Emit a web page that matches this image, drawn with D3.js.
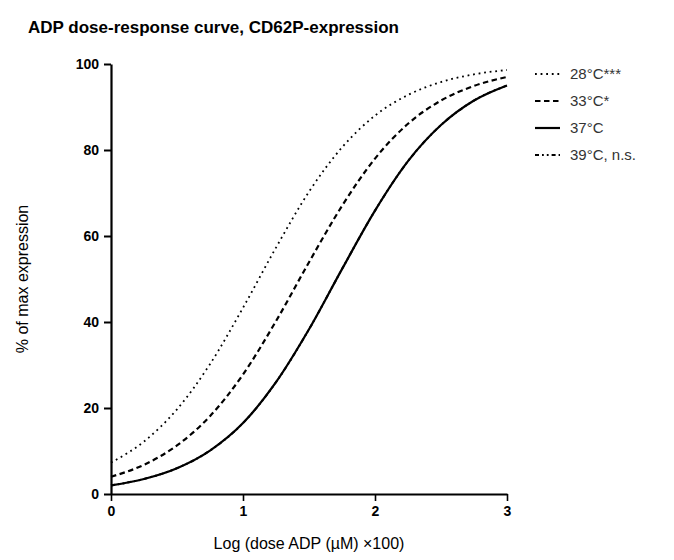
<!DOCTYPE html>
<html>
<head>
<meta charset="utf-8">
<script src="https://cdn.jsdelivr.net/npm/d3@7"></script>
<style>
  body { margin: 0; background: #fff; }
  text { font-family: "Liberation Sans", Arial, sans-serif; }
</style>
</head>
<body>
<div id="plot"></div>
<script>
const logDose = [0, 0.25, 0.5, 0.75, 1, 1.25, 1.5, 1.75, 2, 2.25, 2.5, 2.75, 3];

// % of max expression, per temperature
const t28 = [7.3, 12.2, 19.7, 30.2, 43.3, 57.3, 70.3, 80.6, 88.0, 92.8, 95.8, 97.6, 98.6];
const t33 = [4.0, 6.8, 11.3, 18.1, 27.8, 40.2, 53.9, 67.0, 78.0, 86.1, 91.5, 94.9, 97.0];
const t37 = [2.0, 3.5, 6.0, 10.1, 16.5, 26.0, 38.3, 52.3, 65.9, 77.4, 85.8, 91.5, 95.0];
const t39 = [2.0, 3.5, 6.0, 10.1, 16.5, 26.0, 38.3, 52.3, 65.9, 77.4, 85.8, 91.5, 95.0];

const seriesNames = ['28°C***', '33°C*', '37°C', '39°C, n.s.'];
const xTicks = [0, 1, 2, 3];
const yTicks = [0, 20, 40, 60, 80, 100];

const width = 674;
const height = 560;
const margin = {top: 64, bottom: 66, left: 111, right: 167};

const svg = d3.select('#plot')
    .append('svg')
    .attr('width', width)
    .attr('height', height)
    .attr('viewBox', [0, 0, width, height]);

const x = d3.scaleLinear()
    .domain([0, 3])
    .range([margin.left, width - margin.right]);

const y = d3.scaleLinear()
    .domain([0, 100])
    .range([height - margin.bottom, margin.top]);

const styles = [
    {dash: '1.8,3.8', w: 1.8},
    {dash: '5.5,3.5', w: 2.2},
    {dash: null, w: 2.2},
    {dash: '4,3,1.8,3,1.8,3', w: 2}
];

const series = [t28, t33, t39, t37];
const order = [0, 1, 3, 2];

const line = d3.line()
    .x((d, i) => x(logDose[i]))
    .y(d => y(d))
    .curve(d3.curveMonotoneX);

svg.append('g')
    .selectAll('path')
    .data(series)
    .join('path')
    .attr('fill', 'none')
    .attr('stroke', '#000')
    .attr('stroke-width', (d, i) => styles[order[i]].w)
    .attr('stroke-dasharray', (d, i) => styles[order[i]].dash)
    .attr('d', line);

function xAxis(g) {
    g.attr('transform', `translate(0,${height - margin.bottom})`)
        .call(d3.axisBottom(x).tickValues(xTicks).tickFormat(d3.format('d'))
            .tickSize(7).tickSizeOuter(0).tickPadding(5))
        .call(g => g.select('.domain').attr('stroke-width', 2.2))
        .call(g => g.selectAll('.tick line').attr('stroke-width', 1.6))
        .call(g => g.selectAll('.tick text')
            .attr('font-size', '14px').attr('font-weight', 'bold').attr('fill', '#000'));
}

function yAxis(g) {
    g.attr('transform', `translate(${margin.left},0)`)
        .call(d3.axisLeft(y).tickValues(yTicks).tickSize(7).tickSizeOuter(0).tickPadding(5))
        .call(g => g.select('.domain').attr('stroke-width', 2.2))
        .call(g => g.selectAll('.tick line').attr('stroke-width', 2))
        .call(g => g.selectAll('.tick text')
            .attr('font-size', '14px').attr('font-weight', 'bold').attr('fill', '#000'));
}

svg.append('g').call(yAxis);
svg.append('g').call(xAxis);

svg.append('text')
    .attr('x', 28)
    .attr('y', 33)
    .attr('font-size', '17px')
    .attr('font-weight', 'bold')
    .text('ADP dose-response curve, CD62P-expression');

svg.append('text')
    .attr('transform', `translate(28,${(margin.top + height - margin.bottom) / 2}) rotate(-90)`)
    .attr('text-anchor', 'middle')
    .attr('font-size', '16px')
    .text('% of max expression');

svg.append('text')
    .attr('x', (x(0) + x(3)) / 2)
    .attr('y', 549)
    .attr('text-anchor', 'middle')
    .attr('font-size', '16px')
    .text('Log (dose ADP (µM) ×100)');

// legend
const legend = svg.append('g')
    .selectAll('g')
    .data(seriesNames)
    .join('g')
    .attr('transform', (d, i) => `translate(535,${74 + i * 27})`);

legend.append('line')
    .attr('x1', 0).attr('x2', 25)
    .attr('stroke', '#000')
    .attr('stroke-width', (d, i) => styles[i].w)
    .attr('stroke-dasharray', (d, i) => styles[i].dash);

legend.append('text')
    .attr('x', 35)
    .attr('dy', '0.35em')
    .attr('font-size', '15px')
    .attr('fill', '#333')
    .text(d => d);
</script>
</body>
</html>
